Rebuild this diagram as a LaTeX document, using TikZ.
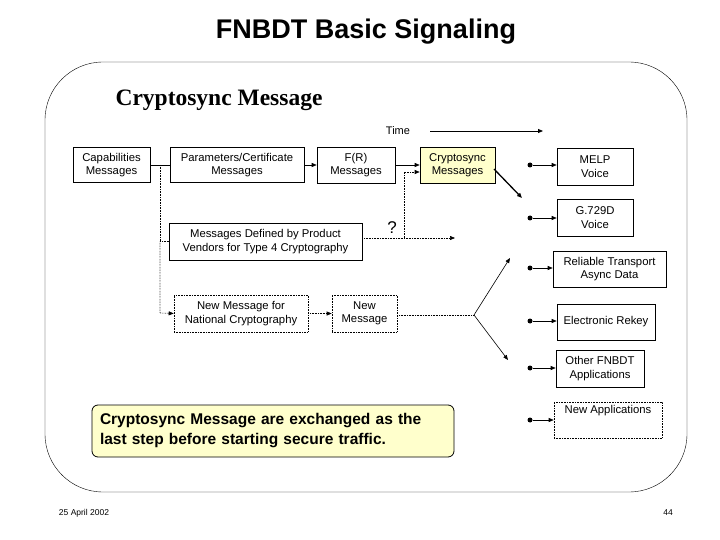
\documentclass[tikz,border=0pt]{standalone}
\usepackage{fontspec}
\setmainfont{Liberation Sans}
\newfontfamily\serifb{Liberation Serif}
\usetikzlibrary{arrows.meta}
\definecolor{cream}{HTML}{FFFFCC}
\begin{document}
\begin{tikzpicture}[x=1pt,y=-1pt,
  box/.style={draw,semithick,align=center,font=\fontsize{11.3}{13.5}\selectfont,inner sep=0pt},
  dbox/.style={box,densely dotted},
  arr/.style={-{Triangle[length=5pt,width=4pt]},semithick},
  darr/.style={arr,densely dotted},
  dot/.style={circle,fill,inner sep=0pt,minimum size=5pt}]
\useasboundingbox (0,0) rectangle (720,540);
\node[font=\bfseries\fontsize{27}{31}\selectfont] (title) at (366,32) {FNBDT Basic Signaling};
\draw[rounded corners=58pt] (45,62) rectangle (687,492);
\node[font=\serifb\bfseries\fontsize{23.5}{27}\selectfont] (head) at (219,100) {Cryptosync Message};
\node[font=\fontsize{11}{12}\selectfont] (time) at (398,131) {Time};
\coordinate (ts) at (430,131); \coordinate (te) at (543,131);
\draw[arr,thick] (ts) -- (te);
% left boxes
\node[box,minimum width=77pt,minimum height=35pt] (cap) at (111.5,165) {Capabilities\\Messages};
\node[box,minimum width=134pt,minimum height=35pt] (par) at (237,165) {Parameters/Certificate\\Messages};
\node[box,minimum width=78pt,minimum height=36pt] (fr) at (356,165) {F(R)\\Messages};
\node[box,fill=cream,minimum width=75pt,minimum height=36pt] (cs) at (457.5,165) {Cryptosync\\Messages};
\node[box,minimum width=193pt,minimum height=37pt] (ven) at (265.5,241.5) {Messages Defined by Product\\Vendors for Type 4 Cryptography};
\node[dbox,minimum width=134pt,minimum height=37pt] (nat) at (241,313.5) {New Message for\\National Cryptography};
\node[dbox,minimum width=65pt,minimum height=37pt] (nm) at (364.5,313.5) {New\\Message};
\draw[semithick] (cap.east) -- (par.west);
\draw[arr] (par.east) -- (fr.west);
\draw[arr] (fr.east) -- (cs.west);
\coordinate (v) at (160,165);
\draw[densely dotted,semithick] (v) -- (160,241.5) -- (ven.west);
\draw[darr] (160,241.5) -- (160,313) -- (nat.west);
\draw[darr] (nat.east) -- (nm.west);
\node[font=\fontsize{17}{19}\selectfont] (q) at (392,228) {?};
\coordinate (qe) at (455,238);
\draw[darr] (ven.east |- 0,238) -- (qe);
\coordinate (qv) at (404,238);
\draw[darr] (qv) -- (404,172) -- (cs.west |- 0,172);
\coordinate (fork) at (474,315);
\coordinate (up) at (510,258); \coordinate (dn) at (508,360);
\draw[densely dotted,semithick] (nm.east |- fork) -- (fork);
\draw[arr] (fork) -- (up);
\draw[arr] (fork) -- (dn);
\coordinate (ce) at (522,198);
\draw[arr,line width=1.3pt] (494,169) -- (ce);
% right boxes
\node[box,minimum width=76pt,minimum height=37pt] (melp) at (595,166.5) {MELP\\Voice};
\node[box,minimum width=76pt,minimum height=37pt] (g7) at (595,217.5) {G.729D\\Voice};
\node[box,minimum width=113pt,minimum height=36pt] (rel) at (609.5,269) {Reliable Transport\\Async Data};
\node[box,minimum width=98pt,minimum height=36pt] (rek) at (606,322) {Electronic Rekey};
\node[box,minimum width=88pt,minimum height=37pt] (oth) at (600,368.5) {Other FNBDT\\Applications};
\node[dbox,minimum width=108pt,minimum height=36pt,anchor=north,text height=9pt,text depth=23pt] (new) at (608,402) {New Applications};
\foreach \n/\y in {melp/165,g7/218,rel/268,rek/321,oth/368,new/420}{
  \node[dot] (d\n) at (530,\y) {};
  \draw[arr] (d\n) -- (\n.west |- d\n);
}
\node[draw,thick,fill=cream,rounded corners=6pt,minimum width=362pt,minimum height=52pt,text width=346pt,align=left,
  font=\bfseries\fontsize{15.5}{20}\selectfont] (call) at (273,431) {Cryptosync Message are exchanged as the\\last step before starting secure traffic.};
\node[font=\fontsize{8.5}{10}\selectfont] (date) at (84,513) {25 April 2002};
\node[font=\fontsize{8.5}{10}\selectfont] (pg) at (668,513) {44};
\end{tikzpicture}
\end{document}
